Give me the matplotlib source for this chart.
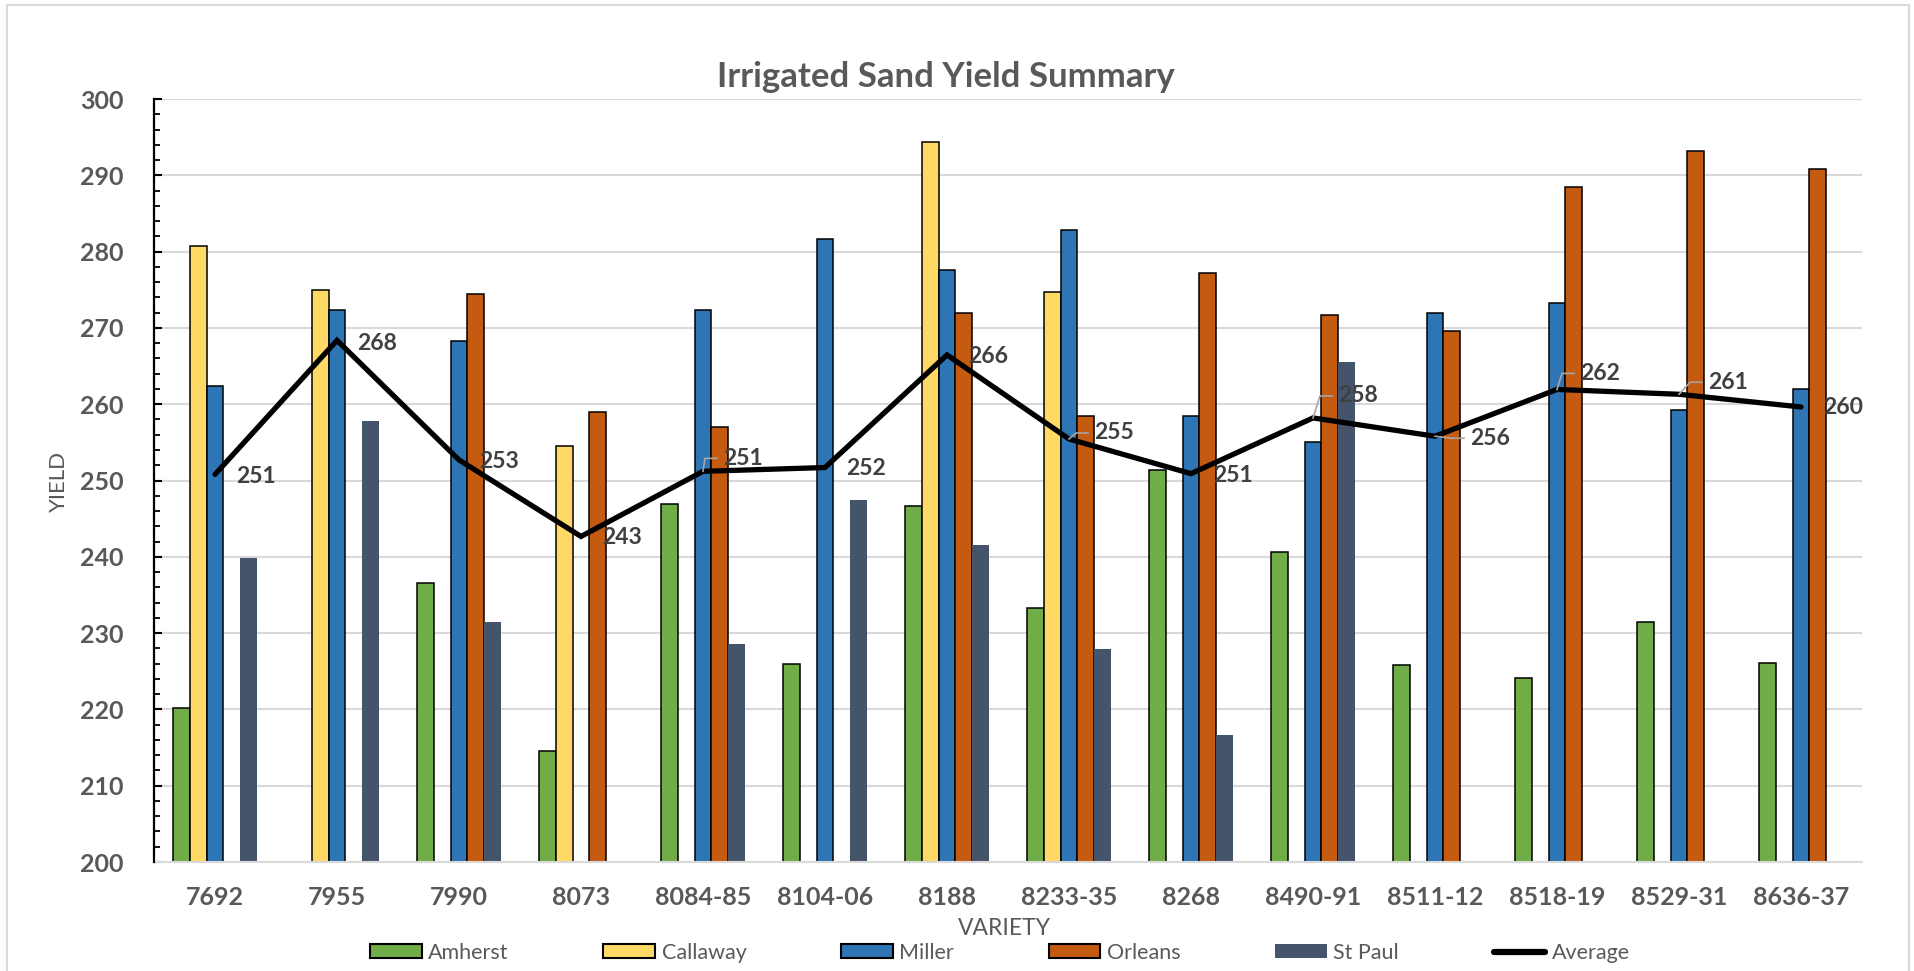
import numpy as np
import matplotlib
matplotlib.use('Agg')
import matplotlib.pyplot as plt
from matplotlib.patches import Patch, Rectangle
from matplotlib.lines import Line2D
from matplotlib.transforms import IdentityTransform

plt.rcParams['font.family'] = ['Lato', 'DejaVu Sans']

nan = np.nan
varieties = ['7692', '7955', '7990', '8073', '8084-85', '8104-06', '8188',
             '8233-35', '8268', '8490-91', '8511-12', '8518-19', '8529-31', '8636-37']
amherst = [220.2, nan, 236.6, 214.5, 246.9, 226.0, 246.7, 233.3, 251.4, 240.6, 225.8, 224.1, 231.5, 226.1]
callaway = [280.7, 275.0, nan, 254.5, nan, nan, 294.4, 274.7, nan, nan, nan, nan, nan, nan]
miller = [262.4, 272.3, 268.3, nan, 272.3, 281.7, 277.6, 282.8, 258.4, 255.0, 272.0, 273.2, 259.2, 262.0]
orleans = [nan, nan, 274.4, 259.0, 257.0, nan, 272.0, 258.5, 277.2, 271.7, 269.6, 288.5, 293.2, 290.8]
st_paul = [239.9, 257.8, 231.5, nan, 228.6, 247.4, 241.6, 227.9, 216.6, 265.5, nan, nan, nan, nan]

series = {'Amherst': amherst, 'Callaway': callaway, 'Miller': miller,
          'Orleans': orleans, 'St Paul': st_paul}
colors = {'Amherst': '#70AD47', 'Callaway': '#FFD966', 'Miller': '#2E75B6',
          'Orleans': '#C55A11', 'St Paul': '#44546A'}
average = np.nanmean(np.array(list(series.values())), axis=0)

# label offsets in pixels (dx right, dy down) and whether a leader line is drawn
label_off = [(41, 2), (40, 3), (40, 2), (41, 1), (40, -13), (41, 1), (41, 2),
             (45, -6), (42, 2), (45, -22), (55, 2), (43, -16), (49, -12), (42, 1)]
leader = [False, False, False, False, True, False, False,
          True, False, True, True, True, True, False]

W, H = 1915, 971
fig = plt.figure(figsize=(W / 100, H / 100), dpi=100)
fig.patches.append(Rectangle((7 / W, -0.01), (1909 - 7) / W, 1 - 5 / H + 0.01,
                             transform=fig.transFigure, fill=False,
                             edgecolor='#d9d9d9', lw=1.5))
ax = fig.add_axes([154 / W, 1 - 862 / H, (1862 - 154) / W, (862 - 99) / H])

x = np.arange(len(varieties))
bw = 0.139
for i, (name, vals) in enumerate(series.items()):
    edge = 'none' if name == 'St Paul' else 'black'
    ax.bar(x + (i - 2) * bw, vals, bw, bottom=0, color=colors[name],
           edgecolor=edge, linewidth=1.1, zorder=2)

ax.plot(x, average, color='black', lw=3.8, zorder=3, solid_capstyle='round',
        solid_joinstyle='miter')

ax.set_xlim(-0.5, len(varieties) - 0.5)
ax.set_ylim(200, 300)
ax.set_yticks(range(200, 301, 10))
ax.set_yticks(range(200, 301, 2), minor=True)
ax.grid(axis='y', color='#d9d9d9', lw=1.5, zorder=0)
ax.set_axisbelow(True)
for s in ['top', 'right']:
    ax.spines[s].set_visible(False)
ax.spines['left'].set_linewidth(1.6)
ax.spines['left'].set_zorder(4)
ax.spines['bottom'].set_color('#d9d9d9')
ax.spines['bottom'].set_linewidth(1.5)

ax.tick_params(axis='y', which='major', direction='in', length=6, width=1.5,
               pad=22, labelsize=18, labelcolor='#595959')
ax.tick_params(axis='y', which='minor', direction='in', length=4.3, width=1.3)
ax.set_xticks(x)
ax.set_xticklabels(varieties)
ax.tick_params(axis='x', length=0, pad=17, labelsize=18, labelcolor='#595959')
for lab in ax.get_xticklabels() + ax.get_yticklabels():
    lab.set_fontweight('bold')

# average labels
for xi, avg, (dx, dy), ld in zip(x, average, label_off, leader):
    ax.annotate(f'{avg:.0f}', (xi, avg), xytext=(dx, -dy), textcoords='offset pixels',
                ha='center', va='center', fontsize=16.5, fontweight='bold',
                color='#404040', zorder=5)
    if ld:
        px, py = ax.transData.transform((xi, avg))
        left = px + dx - 18
        ly = py - dy
        fig.add_artist(Line2D([px, left - 20, left - 8], [py, ly, ly],
                              transform=IdentityTransform(), color='#a6a6a6', lw=1.2))

fig.text(946 / W, 1 - 77 / H, 'Irrigated Sand Yield Summary', ha='center', va='center',
         fontsize=25, fontweight='bold', color='#595959')
fig.text(59 / W, 1 - 481 / H, 'YIELD', rotation=90, ha='center', va='center',
         fontsize=16, color='#595959')
fig.text(1004 / W, 1 - 928 / H, 'VARIETY', ha='center', va='center',
         fontsize=16.5, color='#595959')

handles = [Patch(facecolor=colors[n], edgecolor='none' if n == 'St Paul' else 'black',
                 linewidth=1.5) for n in series]
handles.append(Line2D([], [], color='black', lw=4.5, solid_capstyle='round'))
labels = list(series.keys()) + ['Average']
leg = fig.legend(handles, labels, ncol=6, loc='center',
                 bbox_to_anchor=(1000 / W, 1 - 953 / H), frameon=False, fontsize=15.5,
                 handlelength=2.4, handleheight=0.63, handletextpad=0.3,
                 columnspacing=4.4, labelcolor='#595959')

fig.savefig('out.png', dpi=100, facecolor='white')
